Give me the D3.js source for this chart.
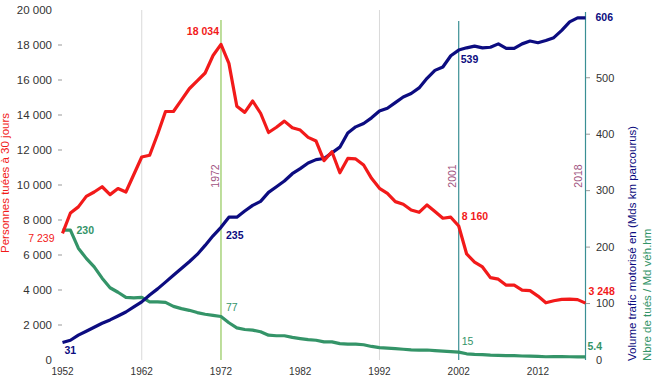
<!DOCTYPE html>
<html>
<head>
<meta charset="utf-8">
<script src="https://cdn.jsdelivr.net/npm/d3@7"></script>
<style>
  html, body { margin: 0; padding: 0; background: #fff; }
  svg { display: block; font-family: Arial, "Liberation Sans", sans-serif; }
</style>
</head>
<body>
<svg id="chart" width="656" height="381"></svg>
<script>
// ─── data ────────────────────────────────────────────────────────────────────
const years = d3.range(1952, 2019);

// personnes tuées à 30 jours (left axis)
const killed = [
  7239, 8400, 8750, 9350, 9600, 9900, 9450, 9800, 9600, 10600,
  11600, 11700, 12900, 14200, 14200, 14850, 15500, 15950, 16400, 17400,
  18034, 16950, 14500, 14150, 14800, 14100, 13000, 13300, 13650, 13270,
  13140, 12720, 12510, 11390, 11900, 10700, 11520, 11490, 11140, 10380,
  9810, 9520, 9050, 8900, 8570, 8440, 8860, 8480, 8100, 8160,
  7655, 6058, 5593, 5318, 4709, 4620, 4275, 4273, 3992, 3963,
  3653, 3268, 3384, 3461, 3477, 3448, 3248
];

// volume trafic motorisé, Mds km parcourus (right axis)
const traffic = [
  31, 35, 44, 51, 58, 65, 71, 78, 85, 94,
  103, 115, 126, 138, 150, 162, 174, 187, 203, 220,
  235, 253, 253, 264, 274, 281, 297, 307, 317, 330,
  339, 349, 355, 357, 367, 377, 402, 413, 419, 429,
  441, 446, 456, 466, 472, 482, 499, 513, 519, 539,
  549, 553, 556, 553, 554, 560, 552, 552, 560, 565,
  562, 566, 571, 584, 599, 606, 606
];

// nbre de tués / Md véh.hm (right axis)
const rate = [
  230, 230, 198, 180, 165, 145, 128, 120, 111, 110,
  111, 103, 103, 102, 95, 91, 88, 84, 81, 79,
  77, 66, 57, 54, 53, 50, 44, 43, 43, 40,
  38, 36, 35, 32, 32, 29, 28, 28, 27, 24,
  22, 21, 20, 19, 18, 17.5, 17.7, 16.5, 15.6, 15,
  14, 11, 10, 9.6, 8.5, 8.2, 7.7, 7.7, 7.1, 7.0,
  6.5, 5.8, 5.9, 5.9, 5.8, 5.7, 5.4
];

const xTicks     = [1952, 1962, 1972, 1982, 1992, 2002, 2012];
const gridYears  = [1962, 1992];
const leftTicks  = d3.range(0, 20001, 2000);
const rightTicks = [0, 100, 200, 300, 400, 500];

// marker lines: position on the axis, printed label
const markerPos   = [1972, 2002, 2018];
const markerText  = ['1972', '2001', '2018'];
const markerColor = ['#92c85a', '#3a8f94', '#3a8f94'];

// value callouts: [series, year, text]
const callouts = [
  ['killed', 1952, '7 239'], ['killed', 1972, '18 034'], ['killed', 2001, '8 160'], ['killed', 2018, '3 248'],
  ['traffic', 1952, '31'], ['traffic', 1972, '235'], ['traffic', 2001, '539'], ['traffic', 2018, '606'],
  ['rate', 1952, '230'], ['rate', 1972, '77'], ['rate', 2001, '15'], ['rate', 2018, '5.4']
];

// ─── layout ──────────────────────────────────────────────────────────────────
const RED = '#f21a1a', NAVY = '#0c0c80', GREEN = '#349468', PURPLE = '#a0527e';
const svg = d3.select('#chart');

const x  = d3.scaleLinear().domain([1952, 2018]).range([62.5, 585.5]);
const yL = d3.scaleLinear().domain([0, 20000]).range([360, 10]);
const yR = d3.scaleLinear().domain([0, 620]).range([360, 10]);

// gray grid lines
svg.selectAll('.grid').data(gridYears).enter().append('line')
  .attr('x1', d => x(d)).attr('x2', d => x(d))
  .attr('y1', 10).attr('y2', 360)
  .attr('stroke', '#d9d9d9').attr('stroke-width', 1);

// marker lines
const markerTop = [20, 21, 12];
markerPos.forEach((yr, i) => {
  svg.append('line')
    .attr('x1', x(yr)).attr('x2', x(yr))
    .attr('y1', markerTop[i]).attr('y2', 360)
    .attr('stroke', markerColor[i]).attr('stroke-width', 1.2);
  svg.append('text')
    .attr('transform', `translate(${x(yr) - (i === 2 ? 7.5 : 6)},176) rotate(-90)`)
    .attr('dy', '0.35em').attr('text-anchor', 'middle')
    .attr('font-size', 10.5).attr('fill', PURPLE)
    .text(markerText[i]);
});

// left axis
svg.selectAll('.lt').data(leftTicks).enter().append('text')
  .attr('x', 52).attr('y', d => yL(d)).attr('dy', '0.35em')
  .attr('text-anchor', 'end').attr('font-size', 11.5).attr('fill', '#333')
  .text(d => d3.format(',')(d).replace(/,/g, ' '));
svg.selectAll('.ltm').data(leftTicks.filter(d => d > 0 && d < 20000)).enter().append('line')
  .attr('x1', 58).attr('x2', 62).attr('y1', d => yL(d)).attr('y2', d => yL(d))
  .attr('stroke', '#999');

// right axis
svg.selectAll('.rt').data(rightTicks).enter().append('text')
  .attr('x', 596).attr('y', d => yR(d)).attr('dy', '0.35em')
  .attr('font-size', 11).attr('fill', '#333')
  .text(d => d);
svg.selectAll('.rtm').data(rightTicks.filter(d => d > 0)).enter().append('line')
  .attr('x1', 586).attr('x2', 590).attr('y1', d => yR(d)).attr('y2', d => yR(d))
  .attr('stroke', '#999');

// bottom axis labels
svg.selectAll('.xt').data(xTicks).enter().append('text')
  .attr('x', d => x(d)).attr('y', 375)
  .attr('text-anchor', 'middle').attr('font-size', 10).attr('fill', '#333')
  .text(d => d);

// series
const series = { killed, traffic, rate };
const line = yScale => d3.line().x((d, i) => x(years[i])).y(d => yScale(d));
[[rate, yR, GREEN], [traffic, yR, NAVY], [killed, yL, RED]].forEach(([vals, sc, col]) => {
  svg.append('path').datum(vals)
    .attr('d', line(sc))
    .attr('fill', 'none').attr('stroke', col)
    .attr('stroke-width', 3.2).attr('stroke-linejoin', 'round');
});

// callout labels
const calloutStyle = {
  killed:  { col: RED,   sc: yL },
  traffic: { col: NAVY,  sc: yR },
  rate:    { col: GREEN, sc: yR }
};
const calloutOffset = {
  'killed-1952':  [-8, 9, 'end', 'normal'],
  'killed-1972':  [-2, -9, 'end', 'bold'],
  'killed-2001':  [11, 3, 'start', 'bold'],
  'killed-2018':  [3, -8, 'start', 'bold'],
  'traffic-1952': [2, 11, 'start', 'bold'],
  'traffic-1972': [5, 12, 'start', 'bold'],
  'traffic-2001': [10, 7, 'start', 'bold'],
  'traffic-2018': [10, 3, 'start', 'bold'],
  'rate-1952':    [14, 4, 'start', 'bold'],
  'rate-1972':    [5, -6, 'start', 'normal'],
  'rate-2001':    [11, -7, 'start', 'normal'],
  'rate-2018':    [2, -7, 'start', 'bold']
};
callouts.forEach(([s, yr, txt]) => {
  const st = calloutStyle[s];
  const [dx, dy, anchor, weight] = calloutOffset[s + '-' + yr];
  const v = series[s][yr - 1952];
  svg.append('text')
    .attr('x', x(yr) + dx).attr('y', st.sc(v) + dy)
    .attr('text-anchor', anchor).attr('font-size', 10.5)
    .attr('font-weight', weight).attr('fill', st.col)
    .text(txt);
});

// axis titles
svg.append('text')
  .attr('transform', 'translate(4.5,183) rotate(-90)')
  .attr('dy', '0.35em').attr('text-anchor', 'middle')
  .attr('font-size', 11.5).attr('fill', RED)
  .text('Personnes tuées à 30 jours');
svg.append('text')
  .attr('transform', 'translate(632,361) rotate(-90)')
  .attr('dy', '0.35em').attr('text-anchor', 'start')
  .attr('font-size', 11.5).attr('fill', NAVY)
  .text('Volume trafic motorisé en (Mds km parcourus)');
svg.append('text')
  .attr('transform', 'translate(647,361) rotate(-90)')
  .attr('dy', '0.35em').attr('text-anchor', 'start')
  .attr('font-size', 11.5).attr('fill', GREEN)
  .text('Nbre de tués / Md véh.hm');
</script>
</body>
</html>
